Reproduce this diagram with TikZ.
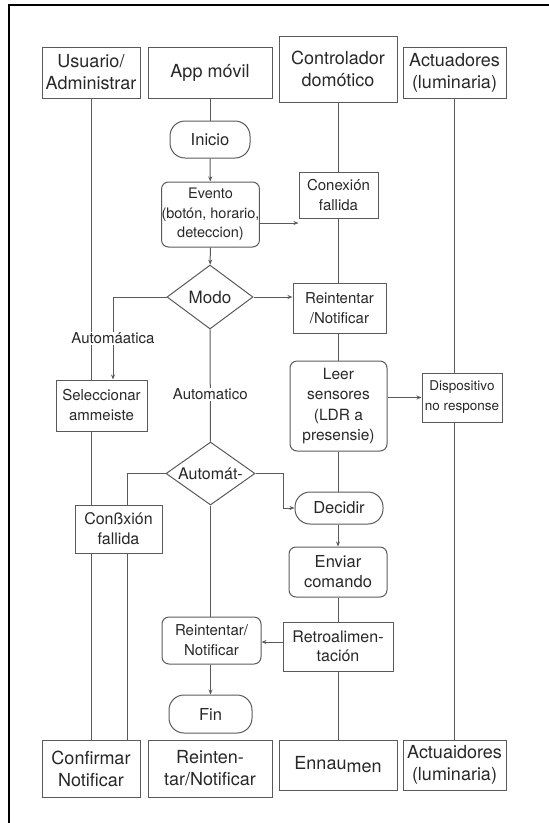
\documentclass[tikz,border=0pt]{standalone}
\usepackage{fontspec}
\setmainfont{TeX Gyre Heros}
\usetikzlibrary{arrows.meta, shapes.geometric, positioning}
\definecolor{lnGray}{RGB}{90,90,90}
\definecolor{txGray}{RGB}{40,40,40}
\begin{document}
\begin{tikzpicture}[x=1pt, y=-1pt,
    box/.style={draw=lnGray, line width=1pt, inner sep=0pt, align=center,
      text=txGray, font=\fontsize{15}{20}\selectfont},
    hd/.style={box, font=\fontsize{18}{22}\selectfont},
    rbox/.style={box, rounded corners=7pt},
    term/.style={box, rounded corners=15pt, font=\fontsize{16.5}{20}\selectfont},
    dec/.style={box, diamond, aspect=1.4, font=\fontsize{16}{20}\selectfont},
    ln/.style={lnGray, line width=1pt},
    arr/.style={ln, -{Stealth[length=5pt, width=4pt]}},
    lbl/.style={fill=white, inner sep=1pt, text=txGray, font=\fontsize{15}{18}\selectfont}
  ]
  \useasboundingbox (0,0) rectangle (549,823);
  \draw[line width=2.5pt] (9,823) -- (9,5) -- (549,5);

  \node[hd, minimum width=98, minimum height=51] (usr) at (91,72.5) {Usuario/\\Administrar};
  \node[hd, minimum width=124, minimum height=51] (app) at (210,72.5) {App móvil};
  \node[hd, minimum width=118, minimum height=66] (ctl) at (338,69) {Controlador\\domótico};
  \node[hd, minimum width=103, minimum height=51] (act) at (454.5,72.5) {Actuadores\\(luminaria)};

  \node[term, minimum width=80, minimum height=37] (ini) at (210,139.5) {Inicio};
  \node[rbox, minimum width=97, minimum height=65, font=\fontsize{14.5}{19.5}\selectfont]
  (evt) at (210.5,214.5) {Evento\\(botón, horario,\\deteccion)};
  \node[box, minimum width=79, minimum height=46] (cnxa) at (338.5,195) {Conexión\\fallida};
  \node[dec, minimum width=86, minimum height=64, font=\fontsize{17}{20}\selectfont]
  (modo) at (210,297) {Modo};
  \node[box, minimum width=93, minimum height=50] (reia) at (339.5,308) {Reintentar\\/Notificar};
  \node[box, minimum width=91, minimum height=51] (sel) at (101.5,405.5) {Seleccionar\\ammeiste};
  \node[rbox, minimum width=97, minimum height=90, font=\fontsize{15.5}{20.5}\selectfont]
  (leer) at (338.5,406) {Leer\\sensores\\(LDR a\\presensie)};
  \node[box, minimum width=80, minimum height=49, font=\fontsize{13.5}{20}\selectfont]
  (disp) at (462,397.5) {Dispositivo\\no response};
  \node[dec, minimum width=89, minimum height=63] (aut) at (210.5,473.5) {Automát-};
  \node[term, minimum width=88, minimum height=32] (dcd) at (339,508) {Decidir};
  \node[box, minimum width=87, minimum height=48, font=\fontsize{16}{20}\selectfont]
  (cnxb) at (118.5,529) {Conßxión\\fallida};
  \node[rbox, minimum width=98, minimum height=50, font=\fontsize{16.5}{20}\selectfont]
  (env) at (338,572) {Enviar\\comando};
  \node[box, minimum width=110, minimum height=49, font=\fontsize{16}{19}\selectfont]
  (ret) at (338,646.5) {Retroalimen-\\tación};
  \node[rbox, minimum width=99, minimum height=47] (reib) at (211.5,640.5) {Reintentar/\\Notificar};
  \node[term, minimum width=83, minimum height=38] (fin) at (210.5,714) {Fin};

  \node[hd, minimum width=98, minimum height=57] (cnf) at (91,768.5) {Confirmar\\Notificar};
  \node[hd, minimum width=124, minimum height=57] (reic) at (210,768.5) {Reinten-\\tar/Notificar};
  \node[hd, minimum width=118, minimum height=50] (enn) at (338,765) {Ennau\raisebox{-3pt}{men}};
  \node[hd, minimum width=103, minimum height=50] (actb) at (454.5,765) {Actuaidores\\(luminaria)};

  \draw[ln] (usr.south) -- (usr.south |- sel.north);
  \draw[ln] (usr.south |- sel.south) -- (usr.south |- cnxb.north);
  \draw[ln] (usr.south |- cnxb.south) -- (cnf.north);
  \draw[ln] ([xshift=8.5pt]cnxb.south) -- ([xshift=8.5pt]cnxb.south |- cnf.north);

  \draw[ln] (app.south) -- (ini.north);
  \draw[arr] (ini) -- (evt);
  \draw[arr] (evt) -- (modo);
  \draw[ln] (modo) -- node[lbl, pos=0.58]{Automatico} (aut);
  \draw[ln] (aut.south) -- (aut.south |- reib.north);
  \draw[arr] (reib.south -| fin.north) -- (fin.north);

  \draw[ln] (ctl.south) -- (ctl.south |- cnxa.north);
  \draw[ln] (ctl.south |- cnxa.south) -- (ctl.south |- reia.north);
  \draw[ln] (ctl.south |- reia.south) -- (ctl.south |- leer.north);
  \draw[ln] (ctl.south |- leer.south) -- (ctl.south |- dcd.north);
  \draw[arr] (ctl.south |- dcd.south) -- (ctl.south |- env.north);
  \draw[ln] (ctl.south |- env.south) -- (ctl.south |- ret.north);
  \draw[ln] (ctl.south |- ret.south) -- (enn.north);

  \draw[ln] (act.south) -- (act.south |- disp.north);
  \draw[ln] (act.south |- disp.south) -- (actb.north);

  \draw[arr] ([yshift=-8.5pt]evt.east) -- ([yshift=-8.5pt]evt.east -| cnxa.west);
  \draw[arr] (modo.east) -- (modo.east -| reia.west);
  \draw[arr] (modo.west) -| node[lbl, pos=0.75]{Automáatica} ([xshift=11.5pt]sel.north);
  \draw[ln] (aut.west) -| ([xshift=8.5pt]cnxb.north);
  \draw[arr] (aut.east) -- ++(28,0) |- (dcd.west);
  \draw[arr] ([yshift=8.5pt]leer.east) -- ([yshift=8.5pt]leer.east -| disp.west);
  \draw[arr] ([yshift=4.5pt]ret.west) -- ([yshift=4.5pt]ret.west -| reib.east);
\end{tikzpicture}
\end{document}
